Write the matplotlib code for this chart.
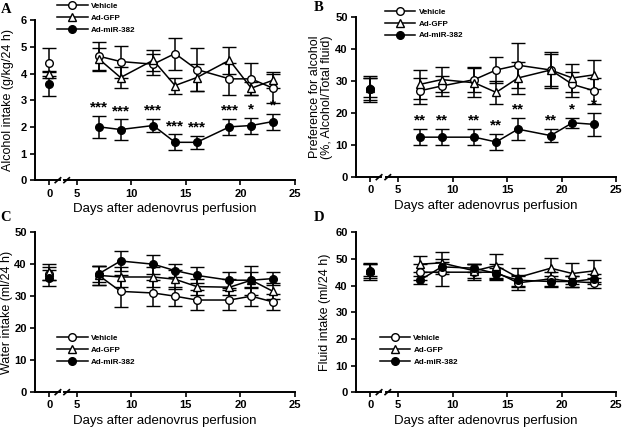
import matplotlib
matplotlib.use('Agg')
import matplotlib.pyplot as plt
import numpy as np

plt.rcParams['font.family'] = ['Liberation Sans', 'DejaVu Sans']

days = [0, 7, 9, 12, 14, 16, 19, 21, 23]
groups = ['Vehicle', 'Ad-GFP', 'Ad-miR-382']

# A: alcohol intake
a_veh = [4.4, 4.65, 4.45, 4.35, 4.75, 4.15, 3.8, 3.8, 3.45]
a_veh_err = [0.55, 0.55, 0.6, 0.4, 0.6, 0.8, 0.6, 0.6, 0.55]
a_gfp = [4.0, 4.55, 3.85, 4.5, 3.55, 3.85, 4.5, 3.45, 3.75]
a_gfp_err = [0.1, 0.4, 0.4, 0.4, 0.3, 0.5, 0.5, 0.25, 0.3]
a_mir = [3.6, 2.0, 1.9, 2.05, 1.42, 1.42, 2.0, 2.05, 2.2]
a_mir_err = [0.45, 0.4, 0.38, 0.25, 0.3, 0.25, 0.3, 0.3, 0.3]
a_stars = ['', '***', '***', '***', '***', '***', '***', '*', '*']

# B: preference for alcohol
b_veh = [27.5, 27, 28.5, 30.5, 33.5, 35, 33.5, 29, 27]
b_veh_err = [3.5, 4, 3, 4, 4, 7, 5, 4, 4]
b_gfp = [28, 29, 30.5, 29.5, 26.5, 31, 33.5, 31, 32]
b_gfp_err = [3, 4.5, 4, 4.5, 3.5, 5, 5.5, 4.5, 4.5]
b_mir = [27.5, 12.5, 12.5, 12.5, 11, 15, 13, 17, 16.5]
b_mir_err = [4, 2.5, 2.5, 2.5, 2.5, 3.5, 2, 1.5, 3.5]
b_stars = ['', '**', '**', '**', '**', '**', '**', '*', '*']

# C: water intake
c_veh = [37, 36.5, 31.5, 31, 30, 28.8, 28.8, 30, 28.2]
c_veh_err = [2, 3, 5, 4, 3, 3, 3, 3, 2.5]
c_gfp = [37.5, 36.5, 36, 36, 35.3, 33, 32.8, 35, 31.5]
c_gfp_err = [2.5, 3, 3, 3, 3, 2.5, 2.5, 4.5, 2.5]
c_mir = [35.8, 37, 41, 40, 38, 36.5, 35, 35, 35.5]
c_mir_err = [2.5, 2.5, 3, 3, 2, 2.5, 2.5, 2.5, 2]

# D: fluid intake
d_veh = [45, 45, 45, 45, 45, 41, 42.5, 41.5, 41]
d_veh_err = [3, 3, 5, 3, 3, 2.5, 2.5, 2, 2]
d_gfp = [46, 48, 48.5, 45.5, 47.5, 43, 46.5, 44.5, 45.5]
d_gfp_err = [2.5, 3, 4, 2.5, 4.5, 3.5, 4, 4, 4]
d_mir = [45.5, 42, 47, 46.5, 44.5, 42, 41.5, 41.5, 42.5]
d_mir_err = [2.5, 1.5, 2, 1.5, 2, 2, 2, 2, 2]

ZERO_POS = 2.45  # where day 0 sits on the broken axis
XMIN, XMAX = 1.15, 25


def xpos(d):
    return ZERO_POS if d == 0 else d


styles = [dict(marker='o', mfc='white'),
          dict(marker='^', mfc='white'),
          dict(marker='o', mfc='black')]


def draw_panel(ax, series, ylim, yticks, ylabel, ylabel_x, letter, letter_xy,
               leg_anchor, stars=None):
    xs = np.array([xpos(d) for d in days])
    handles = []
    for (y, err), st, name in zip(series, styles, groups):
        y = np.array(y)
        err = np.array(err)
        kw = dict(color='black', capsize=5, elinewidth=1.1, capthick=1.1,
                  marker=st['marker'], mfc=st['mfc'], mec='black', ms=5.5, mew=1.0)
        ax.errorbar(xs[1:], y[1:], yerr=err[1:], lw=1.1, **kw)
        ax.errorbar(xs[:1], y[:1], yerr=err[:1], lw=0, **kw)
        h, = ax.plot([], [], color='black', lw=1.1, marker=st['marker'],
                     mfc=st['mfc'], mec='black', ms=5.5, label=name)
        handles.append(h)
    if stars is not None:
        y, err = series[2]
        for x, v, e, s in zip(xs, y, err, stars):
            if s:
                ax.text(x, v + e + (ylim[1] * 0.008), s, ha='center', va='bottom',
                        fontsize=11, fontweight='bold')
    ax.set_xlim(XMIN, XMAX)
    ax.set_ylim(*ylim)
    ax.set_yticks(yticks)
    ax.set_xticks([ZERO_POS, 5, 10, 15, 20, 25])
    ax.set_xticklabels(['0', '5', '10', '15', '20', '25'])
    ax.tick_params(labelsize=8, direction='out', length=3.5, width=1.2, pad=2.5)
    for lab in ax.get_xticklabels() + ax.get_yticklabels():
        lab.set_fontweight('bold')
    ax.spines['top'].set_visible(False)
    ax.spines['right'].set_visible(False)
    ax.spines['left'].set_linewidth(1.4)
    ax.spines['bottom'].set_visible(False)
    tr = ax.get_xaxis_transform()
    ax.plot([XMIN, 3.45], [0, 0], color='black', lw=1.4, transform=tr, clip_on=False)
    ax.plot([3.85, XMAX], [0, 0], color='black', lw=1.4, transform=tr, clip_on=False)
    for bx in (3.25, 4.05):
        ax.plot([bx - 0.25, bx + 0.25], [-0.015, 0.015], color='black', lw=1.2,
                transform=tr, clip_on=False)
    ax.set_xlabel('Days after adenovrus perfusion', fontsize=9.5, labelpad=3)
    ax.set_ylabel(ylabel, fontsize=9, linespacing=0.95)
    ax.yaxis.set_label_coords(ylabel_x, 0.5)
    ax.text(letter_xy[0], letter_xy[1], letter, transform=ax.transAxes, fontsize=10.5,
            fontweight='bold', family='Liberation Serif', ha='left', va='top')
    ax.legend(handles=handles, loc='upper left', bbox_to_anchor=leg_anchor,
              frameon=False, prop=dict(size=5.8, weight='bold'), handlelength=3.8,
              handletextpad=0.4, labelspacing=0.5, borderaxespad=0, borderpad=0)


fig = plt.figure(figsize=(6.26, 4.30), dpi=100)
axA = fig.add_axes([0.056, 0.581, 0.415, 0.372])
axB = fig.add_axes([0.569, 0.588, 0.415, 0.372])
axC = fig.add_axes([0.056, 0.088, 0.415, 0.372])
axD = fig.add_axes([0.569, 0.088, 0.415, 0.372])

draw_panel(axA, [(a_veh, a_veh_err), (a_gfp, a_gfp_err), (a_mir, a_mir_err)],
           (0, 6), range(0, 7), 'Alcohol intake (g/kg/24 h)', -0.08, 'A',
           (-0.13, 1.11), (0.085, 1.11), stars=a_stars)
draw_panel(axB, [(b_veh, b_veh_err), (b_gfp, b_gfp_err), (b_mir, b_mir_err)],
           (0, 50), range(0, 51, 10),
           'Preference for alcohol\n(%, Alcohol/Total fluid)', -0.09, 'B',
           (-0.165, 1.10), (0.11, 1.055), stars=b_stars)
draw_panel(axC, [(c_veh, c_veh_err), (c_gfp, c_gfp_err), (c_mir, c_mir_err)],
           (0, 50), range(0, 51, 10), 'Water intake (ml/24 h)', -0.085, 'C',
           (-0.135, 1.13), (0.085, 0.36))
draw_panel(axD, [(d_veh, d_veh_err), (d_gfp, d_gfp_err), (d_mir, d_mir_err)],
           (0, 60), range(0, 61, 10), 'Fluid intake (ml/24 h)', -0.096, 'D',
           (-0.165, 1.13), (0.09, 0.36))

fig.savefig('out.png', dpi=100)
plt.close(fig)
